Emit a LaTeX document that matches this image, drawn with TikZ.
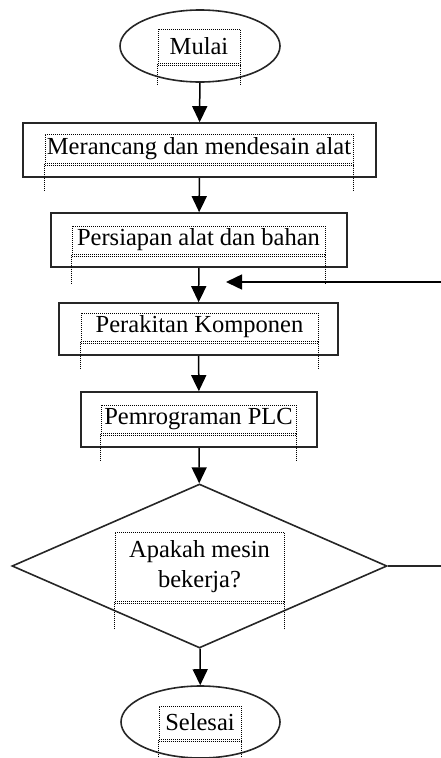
\documentclass[tikz,border=0pt]{standalone}
\usepackage{fontspec}
\setmainfont{Liberation Serif}
\usetikzlibrary{shapes.geometric,arrows.meta}
\begin{document}
\begin{tikzpicture}[x=1pt,y=-1pt,
  shapeline/.style={draw=black!85,line width=1.6pt},
  termbox/.style={shapeline,ellipse,inner sep=0pt},
  procbox/.style={shapeline,rectangle,inner sep=0pt},
  decbox/.style={shapeline,diamond,inner sep=0pt},
  txtframe/.style={draw=black,densely dotted,line width=1pt,inner sep=0pt,
     font=\fontsize{24.5}{30}\selectfont,align=center},
  dotline/.style={draw=black,densely dotted,line width=1pt},
  arr/.style={draw=black,line width=1.5pt,-{Triangle[length=16pt,width=15pt]}},
  plain/.style={draw=black!85,line width=1.5pt}]
\useasboundingbox (0,0) rectangle (441,758);
% shapes
\node[termbox,minimum width=160pt,minimum height=72pt] (start) at (200,46) {};
\node[procbox,minimum width=353pt,minimum height=54pt] (b1) at (199.5,150) {};
\node[procbox,minimum width=296pt,minimum height=54pt] (b2) at (199,240) {};
\node[procbox,minimum width=279pt,minimum height=52pt] (b3) at (198.5,329) {};
\node[procbox,minimum width=236pt,minimum height=55pt] (b4) at (199,419.5) {};
\node[decbox,minimum width=375pt,minimum height=164pt,aspect=2.29] (dia) at (199.5,566) {};
\node[termbox,minimum width=159pt,minimum height=72pt] (end) at (200.5,722) {};
% text frames
\node[txtframe,minimum width=82pt,minimum height=34pt] (t0) at (199,46) {Mulai};
\node[txtframe,minimum width=308pt,minimum height=29pt] (t1) at (199,148.5) {Merancang dan mendesain alat};
\node[txtframe,minimum width=253pt,minimum height=28pt] (t2) at (198.5,240) {Persiapan alat dan bahan};
\node[txtframe,minimum width=237pt,minimum height=28pt] (t3) at (199.5,327) {Perakitan Komponen};
\node[txtframe,minimum width=195pt,minimum height=28pt] (t4) at (198.5,419) {Pemrograman PLC};
\node[txtframe,minimum width=169pt,minimum height=69pt] (t5) at (199.5,566.5) {Apakah mesin\\bekerja?};
\node[txtframe,minimum width=82pt,minimum height=33pt] (t6) at (200,722.5) {Selesai};
\foreach \n/\e in {t0/21,t1/28,t2/29,t3/28,t4/27,t5/28,t6/24}{
  \draw[dotline] ([yshift=-2.2pt]\n.south west) -- ([yshift=-2.2pt]\n.south east);
  \draw[dotline] (\n.south west) -- ++(0,\e);
  \draw[dotline] (\n.south east) -- ++(0,\e);
}
% connectors
\draw[arr] (start) -- (b1);
\draw[arr] (b1) -- (b2);
\draw[arr] (b2) -- (b3);
\draw[arr] (b3) -- (b4);
\draw[arr] (b4) -- (dia);
\draw[arr] (dia) -- (end);
% feedback stubs
\coordinate (fbR1) at (441,282);
\coordinate (fbTip) at (226,282);
\coordinate (fbR2) at (441,566);
\draw[arr] (fbR1) -- (fbTip);
\draw[plain] (dia.east) -- (fbR2);
\end{tikzpicture}
\end{document}
